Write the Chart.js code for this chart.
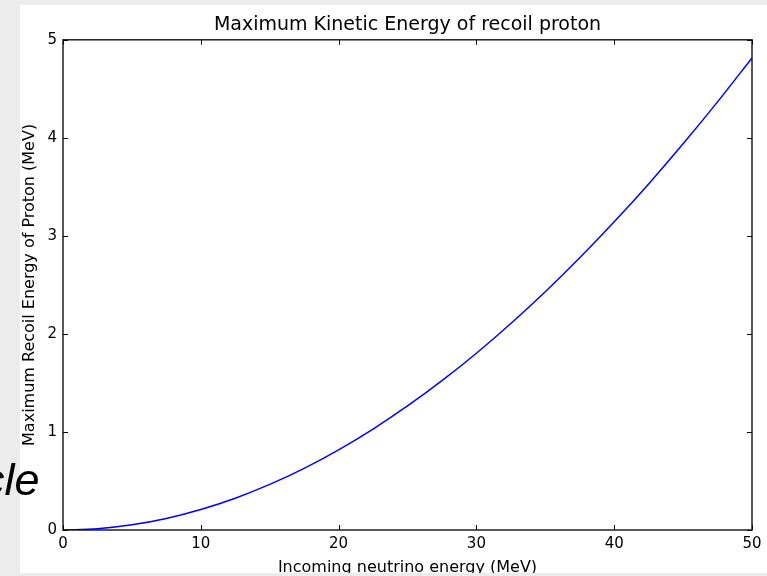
<!DOCTYPE html>
<html>
<head>
<meta charset="utf-8">
<script src="https://cdn.jsdelivr.net/npm/chart.js@4"></script>
<style>
  html, body { margin: 0; padding: 0; }
  body { width: 767px; height: 576px; background: #ececec; position: relative; overflow: hidden; }
  #panel { position: absolute; left: 20px; top: 5px; width: 747px; height: 568px; background: #fff; overflow: hidden; }
  #panel canvas { position: absolute; left: 0; top: 0; }
  #slideText { position: absolute; left: -18px; top: 454px; font: italic 45px "Liberation Sans", Arial, sans-serif; color: #000; z-index: 2; }
</style>
</head>
<body>
<div id="panel"><canvas id="recoilChart" width="747" height="572"></canvas></div>
<div id="slideText">cle</div>
<script>
// neutrino energy (MeV) and max proton recoil energy (MeV)
const neutrinoEnergy = [0, 2.5, 5, 7.5, 10, 12.5, 15, 17.5, 20, 22.5, 25,
                        27.5, 30, 32.5, 35, 37.5, 40, 42.5, 45, 47.5, 50];
const recoilEnergy = [0, 0.013, 0.053, 0.118, 0.209, 0.324, 0.465, 0.629, 0.818, 1.030, 1.265,
                      1.523, 1.803, 2.106, 2.430, 2.776, 3.143, 3.530, 3.939, 4.367, 4.815];
const xTicks = [0, 10, 20, 30, 40, 50];
const yTicks = [0, 1, 2, 3, 4, 5];

const font = 'DejaVu Sans';

// matplotlib-ish frame with inward ticks on all four sides
const frameTicks = {
    id: 'frameTicks',
    afterDraw(chart) {
        const { ctx, chartArea: a, scales: { x, y } } = chart;
        ctx.save();
        ctx.strokeStyle = '#000';
        ctx.lineWidth = 1;
        for (const t of xTicks) {
            const px = Math.round(x.getPixelForValue(t)) + 0.5;
            ctx.beginPath();
            ctx.moveTo(px, a.bottom); ctx.lineTo(px, a.bottom - 5);
            ctx.moveTo(px, a.top); ctx.lineTo(px, a.top + 5);
            ctx.stroke();
        }
        for (const t of yTicks) {
            const py = Math.round(y.getPixelForValue(t)) + 0.5;
            ctx.beginPath();
            ctx.moveTo(a.left, py); ctx.lineTo(a.left + 5, py);
            ctx.moveTo(a.right, py); ctx.lineTo(a.right - 5, py);
            ctx.stroke();
        }
        ctx.lineWidth = 1.4;
        ctx.strokeStyle = '#111';
        ctx.strokeRect(a.left, a.top, a.right - a.left, a.bottom - a.top);
        ctx.restore();
    },
};

new Chart(document.getElementById('recoilChart'), {
    type: 'line',
    data: {
        datasets: [{
            data: neutrinoEnergy.map((e, i) => ({ x: e, y: recoilEnergy[i] })),
            borderColor: '#0000ff',
            borderWidth: 1.5,
            pointRadius: 0,
            cubicInterpolationMode: 'monotone',
            fill: false,
        }],
    },
    options: {
        responsive: false,
        animation: false,
        devicePixelRatio: 1,
        layout: { padding: { left: 0, right: 15, top: 0, bottom: 0 } },
        plugins: {
            legend: { display: false },
            tooltip: { enabled: false },
            title: {
                display: true,
                fullSize: false,
                text: 'Maximum Kinetic Energy of recoil proton',
                color: '#000',
                font: { family: font, size: 19, weight: 'normal' },
                padding: { top: 9, bottom: 3 },
            },
        },
        scales: {
            x: {
                type: 'linear', min: 0, max: 50,
                afterFit(s) { s.height = 47; },
                grid: { display: false, drawTicks: false },
                border: { display: false },
                ticks: {
                    stepSize: 10, color: '#000', padding: 5,
                    font: { family: font, size: 15 },
                },
                title: {
                    display: true, text: 'Incoming neutrino energy (MeV)', color: '#000',
                    font: { family: font, size: 16 }, padding: 0,
                },
            },
            y: {
                type: 'linear', min: 0, max: 5,
                afterFit(s) { s.width = 43; },
                grid: { display: false, drawTicks: false },
                border: { display: false },
                ticks: {
                    stepSize: 1, color: '#000', padding: 6,
                    font: { family: font, size: 15 },
                },
                title: {
                    display: true, text: 'Maximum Recoil Energy of Proton (MeV)', color: '#000',
                    font: { family: font, size: 16 }, padding: 0,
                },
            },
        },
    },
    plugins: [frameTicks],
});
</script>
</body>
</html>
